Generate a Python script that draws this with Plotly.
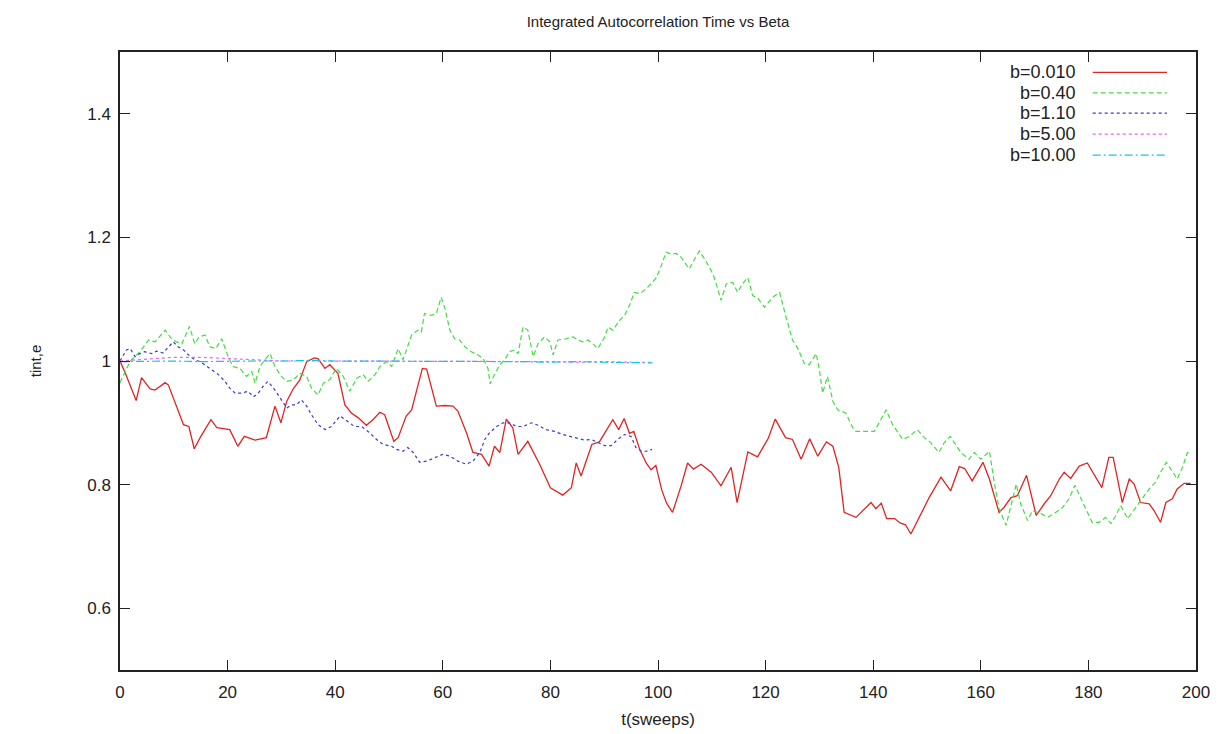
import plotly.graph_objects as go

# ---------------- data ----------------
red_x = [0, 1, 3, 4, 5.6, 6.5, 8.4, 9, 11.8, 12.8,
         13.8, 14.9, 16.9, 18, 20.4, 21.9, 23.1, 25.1, 27.2, 28.8,
         29.9, 31, 32.2, 33.4, 34.7, 36.1, 36.8, 38.1, 39, 40.5,
         41.8, 43, 44.3, 45.8, 47, 48.3, 49.2, 50.9, 51.7, 53.2,
         54.2, 55.4, 56.2, 57, 58.8, 60.4, 61.9, 62.8, 64.4, 65.6,
         67.2, 68.6, 69.6, 70.6, 71.8, 73, 74, 75.8, 78, 80,
         82.3, 83.9, 84.8, 85.7, 87.7, 89.1, 91.6, 92.7, 93.7, 94.7,
         95.5, 96.6, 97.8, 98.7, 99.6, 100.7, 101.6, 102.7, 104.3, 105.5,
         106.6, 108, 109.9, 111.7, 113.6, 114.7, 116.7, 118.5, 120.5, 121.8,
         123.7, 125, 126.6, 128.2, 129.7, 131.3, 132.5, 133.6, 134.6, 136.8,
         139.6, 140.5, 141.5, 142.5, 144, 145, 146, 147, 148.2, 149.2,
         150.4, 152.6, 154.4, 156, 157, 158.4, 160.4, 161.6, 163.4, 164.3,
         165.6, 166.8, 168.5, 170.3, 171.8, 173, 174.6, 175.5, 176.7, 178.3,
         179.8, 182.5, 183.8, 184.6, 186.3, 187.6, 188.5, 189.7, 191.3, 192.2,
         193.4, 194.4, 195.6, 196.5, 197.8, 199]
red_y = [1.0, 0.98, 0.936, 0.973, 0.955, 0.953, 0.965, 0.961, 0.897, 0.894,
         0.858, 0.876, 0.905, 0.892, 0.889, 0.862, 0.878, 0.872, 0.876, 0.927,
         0.9, 0.935, 0.955, 0.969, 0.999, 1.005, 1.004, 0.988, 0.994, 0.98,
         0.929, 0.916, 0.908, 0.896, 0.905, 0.917, 0.913, 0.87, 0.876, 0.911,
         0.921, 0.959, 0.988, 0.987, 0.927, 0.928, 0.927, 0.919, 0.884, 0.852,
         0.849, 0.83, 0.862, 0.852, 0.906, 0.892, 0.849, 0.87, 0.833, 0.795,
         0.783, 0.795, 0.835, 0.814, 0.865, 0.869, 0.905, 0.889, 0.907, 0.883,
         0.886, 0.857, 0.835, 0.824, 0.831, 0.791, 0.77, 0.755, 0.798, 0.835,
         0.825, 0.833, 0.82, 0.798, 0.828, 0.771, 0.853, 0.845, 0.875, 0.906,
         0.876, 0.873, 0.841, 0.874, 0.846, 0.869, 0.862, 0.828, 0.755, 0.747,
         0.771, 0.761, 0.77, 0.745, 0.745, 0.738, 0.735, 0.72, 0.74, 0.758,
         0.779, 0.812, 0.79, 0.829, 0.826, 0.806, 0.836, 0.809, 0.755, 0.763,
         0.779, 0.782, 0.815, 0.75, 0.769, 0.782, 0.809, 0.82, 0.81, 0.83,
         0.835, 0.795, 0.844, 0.844, 0.771, 0.809, 0.801, 0.771, 0.769, 0.758,
         0.739, 0.771, 0.777, 0.793, 0.802, 0.802]

green_x = [0, 1.9, 3.7, 5.3, 6.5, 8.4, 9.6, 10.5, 11.5, 12.9,
           13.9, 14.7, 15.8, 16.7, 17.8, 18.9, 20.1, 21, 22.3, 23.5,
           24.5, 25.1, 26, 26.9, 27.9, 28.8, 30, 31, 32.2, 33.4,
           34.7, 35.6, 36.8, 37.8, 39, 40.2, 41.5, 42.7, 44, 45.2,
           46.1, 47.4, 48.3, 49.5, 50.5, 51.7, 52.6, 54.2, 55.4, 56,
           56.6, 57.9, 58.8, 59.7, 60.4, 61.3, 62.2, 63.1, 64.1, 65.3,
           66.5, 67.5, 68.4, 68.8, 69.6, 70.6, 71.5, 72.4, 73.4, 74,
           74.9, 75.8, 76.8, 77.7, 78.9, 79.9, 80.5, 81.4, 82.9, 84.2,
           85.1, 86, 87, 87.9, 88.8, 90.1, 90.7, 91.6, 92.9, 93.8,
           94.7, 95.6, 96.6, 97.8, 98.7, 99.7, 100.6, 101.5, 102.4, 103.4,
           104.3, 105.8, 106.8, 107.7, 108.9, 110.2, 111.1, 111.7, 112.7, 113.9,
           114.8, 115.7, 116.7, 117.6, 118.6, 119.8, 121.3, 122.6, 123.8, 125,
           126, 127.2, 128.1, 129.4, 130, 130.6, 131.5, 132.5, 133.4, 134.9,
           136.2, 136.8, 138.3, 140.2, 141.1, 142.4, 143.6, 145.5, 146.7, 148.2,
           149.5, 150.7, 152.2, 153.2, 154.3, 156.3, 157.8, 158.8, 160, 161.6,
           162.5, 163.4, 164.7, 165.6, 166.6, 167.4, 168.7, 169.6, 171.2, 172.4,
           173.6, 175.2, 176.4, 177.5, 178.6, 179.5, 180.7, 182, 183.2, 184.2,
           185.1, 186, 187.3, 188.8, 190, 191.3, 192.5, 193.4, 194.5, 195.6,
           196.5, 197.5, 198.4, 199]
green_y = [0.965, 1.0, 1.015, 1.034, 1.031, 1.05, 1.036, 1.031, 1.028, 1.056,
           1.028, 1.039, 1.042, 1.023, 1.02, 1.036, 1.007, 0.991, 0.988, 0.975,
           0.983, 0.964, 0.991, 1.002, 1.012, 0.991, 0.975, 0.967, 0.969, 0.98,
           0.975, 0.956, 0.945, 0.964, 0.97, 0.988, 0.975, 0.951, 0.972, 0.978,
           0.967, 0.978, 0.991, 0.999, 0.991, 1.02, 1.002, 1.042, 1.05, 1.047,
           1.077, 1.074, 1.077, 1.103, 1.085, 1.05, 1.036, 1.034, 1.023, 1.015,
           1.01, 1.004, 0.988, 0.963, 0.978, 0.994, 1.002, 1.015, 1.018, 1.012,
           1.055, 1.05, 1.007, 1.028, 1.039, 1.031, 1.01, 1.034, 1.036, 1.039,
           1.034, 1.031, 1.034, 1.028, 1.02, 1.039, 1.055, 1.05, 1.066, 1.074,
           1.09, 1.111, 1.109, 1.117, 1.125, 1.135, 1.154, 1.176, 1.173, 1.174,
           1.168, 1.149, 1.165, 1.178, 1.162, 1.141, 1.117, 1.098, 1.125, 1.127,
           1.111, 1.125, 1.135, 1.106, 1.101, 1.087, 1.103, 1.111, 1.071, 1.034,
           1.02, 0.996, 0.994, 1.012, 0.986, 0.948, 0.975, 0.935, 0.921, 0.916,
           0.892, 0.886, 0.886, 0.886, 0.9, 0.921, 0.897, 0.873, 0.878, 0.889,
           0.876, 0.868, 0.852, 0.868, 0.878, 0.852, 0.841, 0.852, 0.841, 0.854,
           0.804, 0.761, 0.734, 0.766, 0.801, 0.769, 0.742, 0.758, 0.753, 0.747,
           0.753, 0.763, 0.777, 0.799, 0.777, 0.761, 0.739, 0.739, 0.747, 0.737,
           0.75, 0.766, 0.745, 0.763, 0.777, 0.793, 0.804, 0.82, 0.836, 0.82,
           0.809, 0.828, 0.852, 0.85]

blue_x = [0, 1.2, 1.9, 2.8, 3.7, 4.6, 5.9, 6.8, 8, 9,
          9.9, 10.8, 11.8, 12.7, 13.9, 14.9, 15.8, 17, 18.3, 19.5,
          20.4, 21.4, 22.6, 23.8, 24.8, 25.7, 26.6, 27.5, 28.8, 30,
          31, 31.9, 32.8, 33.7, 34.7, 35.6, 36.8, 38.1, 39.3, 40.9,
          42.1, 43.6, 44.9, 46.1, 47.7, 48.9, 50.5, 51.4, 52.6, 53.5,
          54.5, 55.7, 57, 58.5, 60, 61.3, 62.8, 64.4, 65.6, 66.9,
          67.8, 68.7, 70, 71.2, 72.4, 73.7, 74.9, 76.5, 77.7, 79.2,
          80.8, 82.3, 83.6, 85.1, 86.4, 87.6, 88.8, 90.1, 91.3, 92.5,
          93.8, 95, 95.9, 96.9, 97.8, 98.9]
blue_y = [1.0, 1.018, 1.02, 1.007, 1.012, 1.015, 1.012, 1.016, 1.013, 1.023,
          1.031, 1.023, 1.018, 1.01, 1.002, 0.999, 0.994, 0.986, 0.978, 0.967,
          0.956, 0.948, 0.948, 0.951, 0.942, 0.948, 0.959, 0.967, 0.953, 0.937,
          0.924, 0.929, 0.929, 0.937, 0.927, 0.913, 0.897, 0.889, 0.894, 0.911,
          0.903, 0.894, 0.894, 0.886, 0.873, 0.865, 0.862, 0.857, 0.854, 0.86,
          0.852, 0.836, 0.838, 0.844, 0.849, 0.846, 0.838, 0.833, 0.838, 0.852,
          0.873, 0.884, 0.894, 0.9, 0.9, 0.894, 0.894, 0.9, 0.896, 0.889,
          0.886, 0.881, 0.878, 0.874, 0.872, 0.873, 0.868, 0.863, 0.863, 0.873,
          0.881, 0.878, 0.86, 0.854, 0.854, 0.857]

pink_x = [0, 5, 10, 15, 20, 25, 30, 35, 40, 45, 50, 55, 60, 65, 70, 75, 80, 85, 90, 95, 99]
pink_y = [1.0, 1.003, 1.006, 1.006, 1.004, 1.002, 1.0, 1.0, 1.0, 0.999, 1.0,
          0.999, 0.999, 1.0, 0.999, 0.999, 0.999, 0.998, 0.999, 0.998, 0.998]

cyan_x = [0, 5, 10, 15, 20, 25, 30, 35, 40, 45, 50, 55, 60, 65, 70, 75, 80, 85, 90, 95, 99]
cyan_y = [0.999, 1.0, 1.0, 0.999, 1.0, 1.0, 1.0, 1.001, 1.0, 1.0, 0.999,
          1.0, 0.999, 0.999, 0.999, 0.999, 0.998, 0.999, 0.998, 0.998, 0.997]

series_names = ["b=0.010", "b=0.40", "b=1.10", "b=5.00", "b=10.00"]
x_ticks = [0, 20, 40, 60, 80, 100, 120, 140, 160, 180, 200]
y_ticks = [0.6, 0.8, 1.0, 1.2, 1.4]
y_tick_labels = ["0.6", "0.8", "1", "1.2", "1.4"]

# ---------------- styles ----------------
colors = ["#e02424", "#44dd44", "#3a3ad0", "#f060f0", "#10c8e8"]
dashes = ["solid", "5px,3px", "3px,3px", "dot", "8px,3px,2px,3px"]
widths = [1.3, 1.2, 1.2, 1.2, 1.2]

xs = [red_x, green_x, blue_x, pink_x, cyan_x]
ys = [red_y, green_y, blue_y, pink_y, cyan_y]

FONT = "Liberation Sans, Arial, sans-serif"

fig = go.Figure()
for i in range(5):
    fig.add_trace(go.Scatter(
        x=xs[i], y=ys[i], mode="lines", name=series_names[i],
        line=dict(color=colors[i], width=widths[i], dash=dashes[i]),
        showlegend=False,
    ))

# custom gnuplot-style legend (text right-aligned, sample on the right)
leg_rows = [0.967, 0.934, 0.901, 0.867, 0.833]
for i in range(5):
    fig.add_annotation(xref="paper", yref="paper", x=0.890, y=leg_rows[i],
                       xanchor="right", yanchor="middle", showarrow=False,
                       text=series_names[i],
                       font=dict(family=FONT, size=18, color="#222"))
    fig.add_shape(type="line", xref="paper", yref="paper",
                  x0=0.904, x1=0.973, y0=leg_rows[i], y1=leg_rows[i],
                  line=dict(color=colors[i], width=widths[i], dash=dashes[i]))

axis_common = dict(
    showline=True, linecolor="#222", linewidth=1.5, mirror="ticks",
    ticks="inside", ticklen=10, tickwidth=1.3, tickcolor="#222",
    showgrid=False, zeroline=False, automargin=False,
    tickfont=dict(family=FONT, size=17, color="#222"),
)

fig.update_layout(
    width=1228, height=734,
    paper_bgcolor="white", plot_bgcolor="white",
    margin=dict(l=120, r=32, t=52, b=64),
    title=dict(text="Integrated Autocorrelation Time vs Beta",
               x=(120 + 1196) / 2 / 1228, xanchor="center",
               y=1 - 22 / 734, yanchor="middle", yref="container",
               font=dict(family=FONT, size=15, color="#222")),
    xaxis=dict(range=[0, 200], tickvals=x_ticks, ticklabelstandoff=6,
               title=dict(text="t(sweeps)", standoff=12,
                          font=dict(family=FONT, size=17, color="#222")),
               **axis_common),
    yaxis=dict(range=[0.5, 1.5], tickvals=y_ticks, ticktext=y_tick_labels,
               ticklabelstandoff=4,
               title=dict(text="tint,e", standoff=42,
                          font=dict(family=FONT, size=15, color="#222")),
               **axis_common),
)

fig.write_html("out.html")
